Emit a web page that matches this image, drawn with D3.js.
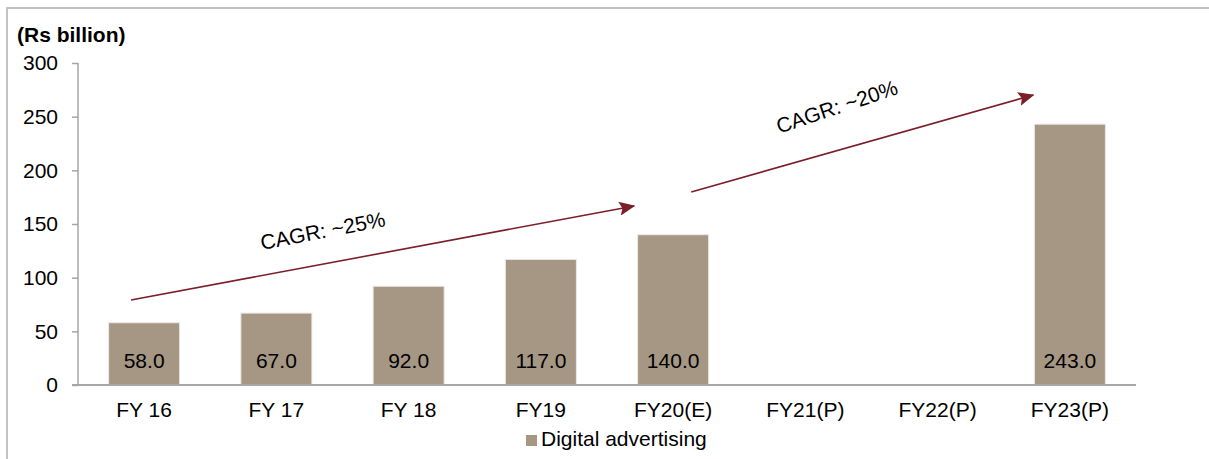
<!DOCTYPE html>
<html><head><meta charset="utf-8">
<script src="https://cdn.jsdelivr.net/npm/d3@7"></script>
<style>body{margin:0;background:#fff;} text{font-family:"Liberation Sans",Arial,sans-serif;}</style>
</head><body>
<svg id="chart" width="1209" height="459"></svg>
<script>
const categories = ["FY 16","FY 17","FY 18","FY19","FY20(E)","FY21(P)","FY22(P)","FY23(P)"];
const values = [58.0, 67.0, 92.0, 117.0, 140.0, null, null, 243.0];
const yTicks = [0, 50, 100, 150, 200, 250, 300];
const seriesName = "Digital advertising";
const unitLabel = "(Rs billion)";
// CAGR annotations: positions in category-index units and value units
const arrows = [
  {x1: 0.401, y1: 79.2, x2: 4.206, y2: 166.8},
  {x1: 4.637, y1: 179.8, x2: 7.224, y2: 270.2}
];
const arrowLabels = [
  {text: "CAGR: ~25%", x: 1.861, y: 137, angle: -11},
  {text: "CAGR: ~20%", x: 5.756, y: 252.8, angle: -18.5}
];

(function(){
const svg = d3.select("#chart");
const mLeft = 78, mRight = 1136, mTop = 63, mBottom = 385;
const barColor = "#a69684", arrowColor = "#7b1e2a", axisColor = "#a6a6a6";
const fs = 21;

// frame
svg.append("path").attr("d", "M7,459V8H1209").attr("fill","none").attr("stroke","#c3c3c3").attr("stroke-width",2);

const x = d3.scaleBand().domain(categories).range([mLeft, mRight]).paddingInner(0.463).paddingOuter(0.2315);
const xi = d3.scaleLinear().domain([0, categories.length]).range([mLeft, mRight]);
const y = d3.scaleLinear().domain([0, 300]).range([mBottom, mTop]);

// y axis
const yAxis = svg.append("g").attr("transform", `translate(${mLeft},0)`)
  .call(d3.axisLeft(y).tickValues(yTicks).tickSize(6).tickPadding(14).tickFormat(d3.format("d")));
yAxis.select(".domain").attr("stroke", axisColor).attr("stroke-width",1.5).attr("d", `M0,${mTop}V${mBottom}`);
yAxis.selectAll(".tick line").attr("stroke", axisColor).attr("stroke-width",1.5);
yAxis.selectAll(".tick text").attr("font-size", fs).attr("fill","#000").attr("font-family","Liberation Sans, Arial, sans-serif");

// bars
const data = categories.map((c,i)=>({c, v: values[i]})).filter(d=>d.v!==null);
svg.append("g").selectAll("rect").data(data).join("rect")
  .attr("x", d=>x(d.c)).attr("width", x.bandwidth())
  .attr("y", d=>y(d.v)).attr("height", d=>y(0)-y(d.v))
  .attr("fill", barColor).attr("stroke","#ece8e3").attr("stroke-width",1);

// x axis
const xAxis = svg.append("g").attr("transform", `translate(0,${mBottom})`)
  .call(d3.axisBottom(x).tickSize(0).tickPadding(17));
xAxis.select(".domain").attr("stroke", axisColor).attr("stroke-width",2).attr("d", `M${mLeft-6},0H${mRight}`);
xAxis.selectAll(".tick text").attr("font-size", fs).attr("fill","#000").attr("font-family","Liberation Sans, Arial, sans-serif");

// data labels
svg.append("g").selectAll("text").data(data).join("text")
  .attr("x", d=>x(d.c)+x.bandwidth()/2).attr("y", y(0)-17)
  .attr("text-anchor","middle").attr("font-size", fs).attr("fill","#000")
  .text(d=>d3.format(".1f")(d.v));

// arrows
const defs = svg.append("defs");
defs.append("marker").attr("id","ah").attr("viewBox","0 0 16 14").attr("refX",15).attr("refY",7)
  .attr("markerWidth",16).attr("markerHeight",14).attr("markerUnits","userSpaceOnUse").attr("orient","auto")
  .append("path").attr("d","M0,0L16,7L0,14L3,7Z").attr("fill",arrowColor);
svg.append("g").selectAll("line").data(arrows).join("line")
  .attr("x1", d=>xi(d.x1)).attr("y1", d=>y(d.y1)).attr("x2", d=>xi(d.x2)).attr("y2", d=>y(d.y2))
  .attr("stroke", arrowColor).attr("stroke-width",1.6).attr("marker-end","url(#ah)");
svg.append("g").selectAll("text").data(arrowLabels).join("text")
  .attr("transform", d=>`translate(${xi(d.x)},${y(d.y)}) rotate(${d.angle})`)
  .attr("text-anchor","middle").attr("font-size", fs).attr("fill","#000").text(d=>d.text);

// unit label
svg.append("text").attr("x",17).attr("y",42).attr("font-size",fs).attr("font-weight","bold").text(unitLabel);

// legend
const lg = svg.append("g").attr("transform","translate(526,435)");
lg.append("rect").attr("width",11).attr("height",11).attr("fill",barColor);
lg.append("text").attr("x",15).attr("y",11).attr("font-size",fs).attr("fill","#000").text(seriesName);
})();
</script>
</body></html>
